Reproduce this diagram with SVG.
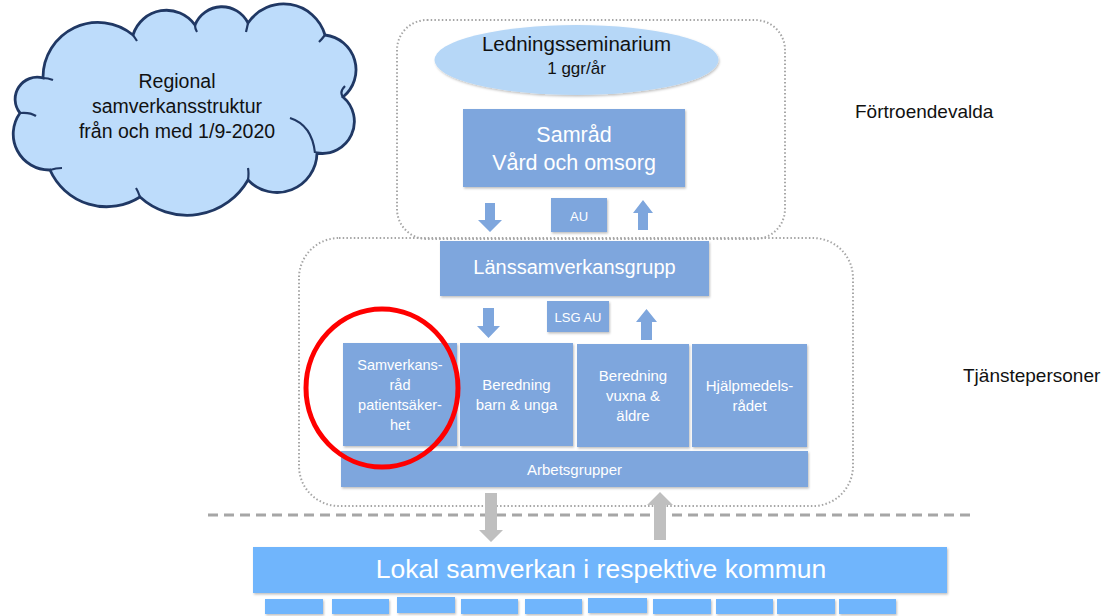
<svg xmlns="http://www.w3.org/2000/svg" width="1107" height="616" viewBox="0 0 1107 616">
<defs>
<filter id="sh" x="-10%" y="-10%" width="120%" height="130%">
<feDropShadow dx="1" dy="1.5" stdDeviation="1" flood-color="#000" flood-opacity="0.25"/>
</filter>
</defs>
<style>
text{font-family:"Liberation Sans",Arial,sans-serif}
.box{fill:#7ea6dd;filter:url(#sh)}
.lok{fill:#70b5fc;filter:url(#sh)}
.wt{fill:#ffffff;text-anchor:middle}
.bt{fill:#111111;text-anchor:middle}
.cont{fill:none;stroke:#a6a6a6;stroke-width:2;stroke-dasharray:1.5 2.2}
.arr{fill:#7ea6dd}
.garr{fill:#bfbfbf}
</style>
<rect width="1107" height="616" fill="#ffffff"/>

<g id="cloud">
<path d="M43,78 A55,55 0 0 1 133,35 A35,35 0 0 1 195,25 A29,29 0 0 1 248,23 A43,43 0 0 1 325,35 A35,35 0 0 1 343,97 A32,32 0 0 1 317,153 A40,40 0 0 1 248,180 A70,70 0 0 1 140,197 A62,62 0 0 1 50,170 A36,36 0 0 1 20,113 A22,22 0 0 1 43,78 Z" fill="#bddcfb" stroke="#203864" stroke-width="2.8"/>
<path d="M43,78 Q48,78 53,80 M133,35 Q135,38 137,41 M195,25 Q195,29 197,32 M248,23 Q247,28 246,32 M325,35 Q322,39 319,42 M343,97 Q339,92 345,86 M290,118 Q312,125 315,153 M248,180 Q249,173 248,168 M140,197 Q138,191 136,188 M50,170 Q56,168 62,168 M20,113 Q30,112 36,116" fill="none" stroke="#203864" stroke-width="2.2"/>
<text class="bt" x="177" y="88" font-size="19.5">Regional</text>
<text class="bt" x="177" y="113" font-size="19.5">samverkansstruktur</text>
<text class="bt" x="177" y="138" font-size="19.5">från och med 1/9-2020</text>
</g>

<g id="containers">
<rect class="cont" x="397" y="20" width="388" height="219" rx="30"/>
<rect class="cont" x="299" y="238" width="554" height="268" rx="40"/>
</g>

<g id="ledningsseminarium">
<ellipse cx="576.5" cy="60" rx="142" ry="35" fill="#b6d7f7" filter="url(#sh)"/>
<text class="bt" x="576.5" y="51" font-size="20.5">Ledningsseminarium</text>
<text class="bt" x="576.5" y="74" font-size="17">1 ggr/år</text>
</g>

<g id="samrad">
<rect class="box" x="463" y="109" width="222" height="78"/>
<text class="wt" x="574" y="142" font-size="21.5">Samråd</text>
<text class="wt" x="574" y="170" font-size="21.5">Vård och omsorg</text>
</g>

<g id="au">
<rect class="box" x="551" y="198" width="56" height="34"/>
<text class="wt" x="579" y="221" font-size="13">AU</text>
</g>

<g id="lanssamverkansgrupp">
<rect class="box" x="440" y="241" width="269" height="55"/>
<text class="wt" x="574.5" y="274" font-size="20">Länssamverkansgrupp</text>
</g>

<g id="lsgau">
<rect class="box" x="547" y="301" width="62" height="31"/>
<text class="wt" x="578" y="322" font-size="13">LSG AU</text>
</g>

<g id="samverkansrad">
<rect class="box" x="343" y="343" width="114" height="103"/>
<text class="wt" x="400" y="370" font-size="14.5">Samverkans-</text>
<text class="wt" x="400" y="390" font-size="14.5">råd</text>
<text class="wt" x="400" y="410" font-size="14.5">patientsäker-</text>
<text class="wt" x="400" y="430" font-size="14.5">het</text>
</g>

<g id="beredning-barn">
<rect class="box" x="460" y="343" width="113" height="103"/>
<text class="wt" x="516.5" y="390" font-size="15">Beredning</text>
<text class="wt" x="516.5" y="410" font-size="15">barn &amp; unga</text>
</g>

<g id="beredning-vuxna">
<rect class="box" x="577" y="344" width="112" height="103"/>
<text class="wt" x="633" y="381" font-size="15">Beredning</text>
<text class="wt" x="633" y="401" font-size="15">vuxna &amp;</text>
<text class="wt" x="633" y="421" font-size="15">äldre</text>
</g>

<g id="hjalpmedelsradet">
<rect class="box" x="692" y="344" width="115" height="103"/>
<text class="wt" x="749.5" y="391" font-size="15">Hjälpmedels-</text>
<text class="wt" x="749.5" y="411" font-size="15">rådet</text>
</g>

<g id="arbetsgrupper">
<rect class="box" x="341" y="451" width="467" height="36"/>
<text class="wt" x="574.5" y="475" font-size="15">Arbetsgrupper</text>
</g>

<g id="highlight">
<ellipse cx="382" cy="388" rx="76" ry="79" fill="none" stroke="#ff0000" stroke-width="5"/>
</g>

<g id="labels">
<text x="855" y="118" font-size="19" fill="#111">Förtroendevalda</text>
<text x="963" y="382" font-size="19" fill="#111">Tjänstepersoner</text>
</g>

<g id="divider">
<line x1="208" y1="515" x2="970" y2="515" stroke="#a6a6a6" stroke-width="3" stroke-dasharray="10 6"/>
</g>

<g id="lokal">
<rect class="lok" x="253" y="547" width="694" height="46"/>
<text class="wt" x="601" y="578" font-size="26.5">Lokal samverkan i respektive kommun</text>
<rect class="lok" x="265" y="599" width="58" height="15"/>
<rect class="lok" x="332" y="599" width="57" height="15"/>
<rect class="lok" x="397" y="597" width="58" height="16"/>
<rect class="lok" x="461" y="599" width="57" height="15"/>
<rect class="lok" x="525" y="599" width="57" height="15"/>
<rect class="lok" x="588" y="598" width="59" height="15"/>
<rect class="lok" x="653" y="599" width="58" height="15"/>
<rect class="lok" x="716" y="599" width="57" height="15"/>
<rect class="lok" x="777" y="599" width="58" height="15"/>
<rect class="lok" x="839" y="599" width="57" height="15"/>
</g>

<g id="connectors">
<polygon class="arr" points="485,203 495,203 495,220 502,220 490,232 478,220 485,220"/>
<polygon class="arr" points="643,200 653,213 648,213 648,230 638,230 638,213 633,213"/>
<polygon class="arr" points="483,308 494,308 494,326 500,326 488.5,338 477,326 483,326"/>
<polygon class="arr" points="646.5,309 657,322 652,322 652,340 641,340 641,322 636,322"/>
<polygon class="garr" points="485,493 497,493 497,530 503,530 491,542 479,530 485,530"/>
<polygon class="garr" points="660,492 673,505 666,505 666,540 654,540 654,505 647,505"/>
</g>
</svg>
